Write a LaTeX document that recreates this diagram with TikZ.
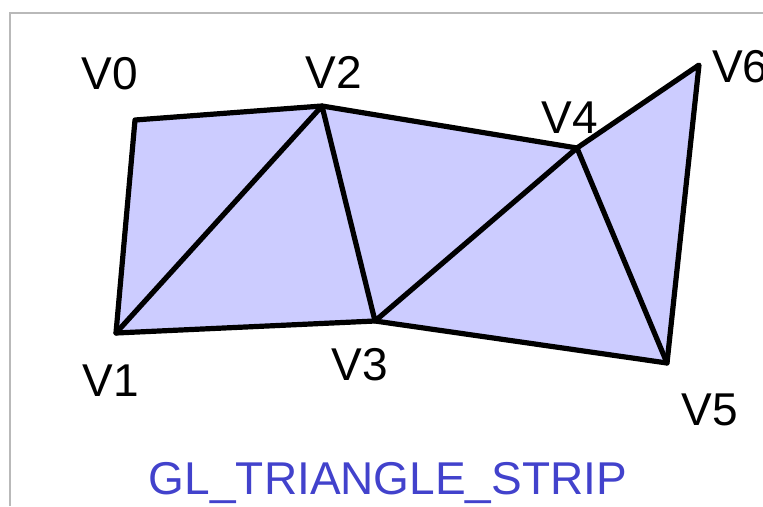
\documentclass[tikz,border=0pt]{standalone}
\usepackage{fontspec}
\setmainfont{Liberation Sans}
\usetikzlibrary{positioning}
\definecolor{stripfill}{RGB}{204,204,255}
\definecolor{captionblue}{RGB}{66,66,204}
\definecolor{framegray}{RGB}{185,185,185}
\tikzset{
  stripface/.style={fill=stripfill, draw=none},
  stripedge/.style={draw=black, line width=5.2pt, line join=round, line cap=round},
  vlabel/.style={font=\fontsize{46}{46}\selectfont, inner sep=0pt, anchor=base},
  caption/.style={font=\fontsize{46}{46}\selectfont, text=captionblue, inner sep=0pt, anchor=base},
  frame/.style={draw=framegray, line width=2.2pt}
}

\begin{document}
\begin{tikzpicture}[x=1pt, y=-1pt]
  \useasboundingbox (0,0) rectangle (763,506);
  \coordinate (fbl) at (10,506);
  \coordinate (ftl) at (10,13);
  \coordinate (ftr) at (763,13);
  \draw[frame] (fbl) -- (ftl) -- (ftr);

  % strip vertices
  \coordinate (v0) at (135,120);
  \coordinate (v1) at (116,333);
  \coordinate (v2) at (322,106);
  \coordinate (v3) at (375,321);
  \coordinate (v4) at (577,148);
  \coordinate (v5) at (667,363);
  \coordinate (v6) at (699,65);

  \fill[stripface] (v0) -- (v2) -- (v4) -- (v6) -- (v5) -- (v3) -- (v1) -- cycle;
  \draw[stripedge] (v0) -- (v2) -- (v4) -- (v6) -- (v5) -- (v3) -- (v1) -- cycle;
  \draw[stripedge] (v1) -- (v2) -- (v3) -- (v4) -- (v5);

  % labels
  \node[vlabel] (l0) at (110,89) {V0};
  \node[vlabel] (l1) at (111,396) {V1};
  \node[vlabel] (l2) at (334,88) {V2};
  \node[vlabel] (l3) at (360,380) {V3};
  \node[vlabel] (l4) at (570,133) {V4};
  \node[vlabel] (l5) at (710,425) {V5};
  \node[vlabel, anchor=base west] (l6) at (712,82) {V6};

  \node[caption] (title) at (388,494) {GL\_TRIANGLE\_STRIP};
\end{tikzpicture}
\end{document}
